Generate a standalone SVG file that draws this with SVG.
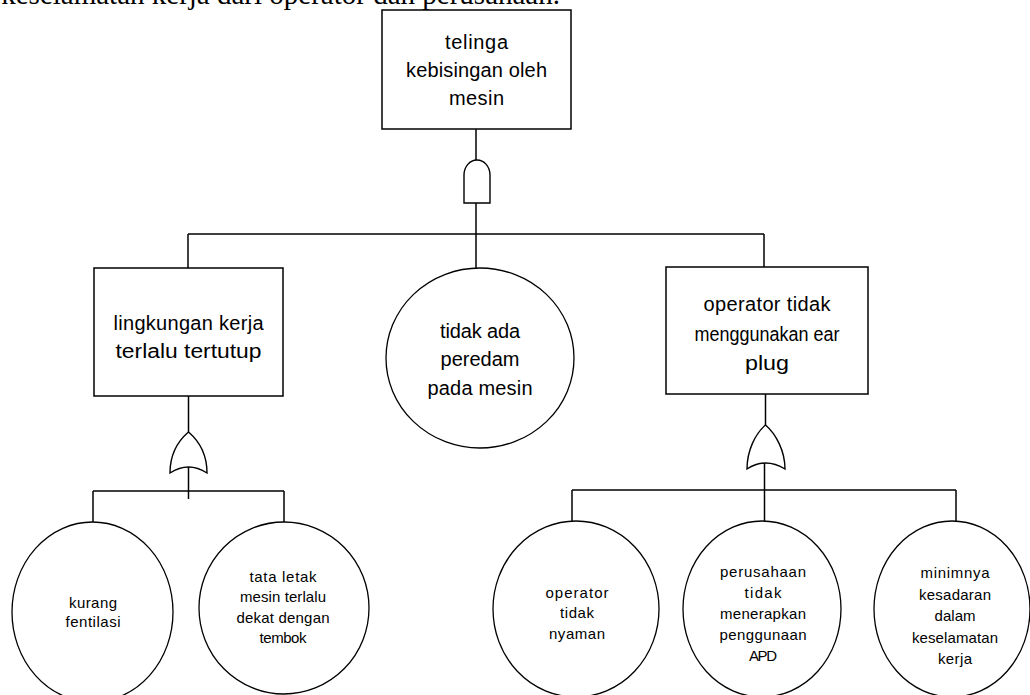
<svg xmlns="http://www.w3.org/2000/svg" width="1030" height="695" viewBox="0 0 1030 695">
<style>
.bg{fill:#fff}
.box{fill:#fff;stroke:#000;stroke-width:1.5}
.ev{fill:#fff;stroke:#000;stroke-width:1.3}
.gate{fill:#fff;stroke:#000;stroke-width:1.4}
.ln{fill:none;stroke:#000;stroke-width:1.5}
.t{font-family:"Liberation Sans",Arial,sans-serif;font-size:20px;fill:#000;text-anchor:middle}
.s{font-family:"Liberation Sans",Arial,sans-serif;font-size:15px;fill:#000;text-anchor:middle}
.h{font-family:"Liberation Serif","Times New Roman",serif;font-size:29px;fill:#000;text-anchor:end}
</style>
<rect class="bg" x="0" y="0" width="1030" height="695"/>
<text class="h" x="560" y="4">keselamatan kerja dari operator dan perusahaan.</text>

<g id="connectors">
<line class="ln" x1="476" y1="129" x2="476" y2="160"/>
<line class="ln" x1="476" y1="203" x2="476" y2="268"/>
<line class="ln" x1="188" y1="234" x2="764" y2="234"/>
<line class="ln" x1="188" y1="234" x2="188" y2="268"/>
<line class="ln" x1="764" y1="234" x2="764" y2="267"/>
<line class="ln" x1="188.5" y1="396" x2="188.5" y2="432"/>
<line class="ln" x1="188.5" y1="467" x2="188.5" y2="499"/>
<line class="ln" x1="93" y1="491" x2="284" y2="491"/>
<line class="ln" x1="93" y1="491" x2="93" y2="522"/>
<line class="ln" x1="284" y1="491" x2="284" y2="522"/>
<line class="ln" x1="765.5" y1="394" x2="765.5" y2="425"/>
<line class="ln" x1="764.5" y1="463" x2="764.5" y2="521"/>
<line class="ln" x1="572" y1="490" x2="956" y2="490"/>
<line class="ln" x1="572" y1="490" x2="572" y2="521"/>
<line class="ln" x1="956" y1="490" x2="956" y2="521"/>
</g>

<g id="gate-and">
<path class="gate" d="M464 203 V175 A13 15 0 0 1 490 175 V203 Z"/>
</g>
<g id="gate-or-left">
<path class="gate" d="M170 473 C170 455 178 441 188.5 432 C199 441 207 455 207 473 Q188.5 461 170 473 Z"/>
</g>
<g id="gate-or-right">
<path class="gate" d="M747 469 C747 451 755 434 765.5 425 C776 434 785 451 785 469 Q765.5 457 747 469 Z"/>
</g>

<g id="top">
<rect class="box" x="382" y="10" width="189" height="119"/>
<text class="t" x="476.5" y="49" textLength="63">telinga</text>
<text class="t" x="476.5" y="77" textLength="141">kebisingan oleh</text>
<text class="t" x="476.5" y="105" textLength="55">mesin</text>
</g>

<g id="lingkungan">
<rect class="box" x="94" y="268" width="189" height="128"/>
<text class="t" x="188.5" y="330" textLength="150">lingkungan kerja</text>
<text class="t" x="188.5" y="358" textLength="146" lengthAdjust="spacingAndGlyphs">terlalu tertutup</text>
</g>

<g id="peredam">
<ellipse class="ev" cx="480" cy="358" rx="94" ry="90"/>
<text class="t" x="480" y="338" textLength="80">tidak ada</text>
<text class="t" x="480" y="366" textLength="79">peredam</text>
<text class="t" x="480" y="395" textLength="105">pada mesin</text>
</g>

<g id="earplug">
<rect class="box" x="666" y="267" width="202" height="127"/>
<text class="t" x="767" y="311" textLength="127">operator tidak</text>
<text class="t" x="767" y="341" textLength="145" lengthAdjust="spacingAndGlyphs">menggunakan ear</text>
<text class="t" x="767" y="370" textLength="44" lengthAdjust="spacingAndGlyphs">plug</text>
</g>

<g id="fentilasi">
<ellipse class="ev" cx="92.5" cy="612" rx="80.5" ry="90"/>
<text class="s" x="93" y="608" textLength="48">kurang</text>
<text class="s" x="93" y="627" textLength="55">fentilasi</text>
</g>

<g id="tataletak">
<ellipse class="ev" cx="284" cy="608" rx="85" ry="86"/>
<text class="s" x="283" y="582" textLength="67">tata letak</text>
<text class="s" x="283" y="602" textLength="86">mesin terlalu</text>
<text class="s" x="283" y="623" textLength="93">dekat dengan</text>
<text class="s" x="283" y="643" textLength="47">tembok</text>
</g>

<g id="nyaman">
<ellipse class="ev" cx="576" cy="609" rx="83" ry="88"/>
<text class="s" x="577" y="598" textLength="63">operator</text>
<text class="s" x="577" y="618" textLength="34">tidak</text>
<text class="s" x="577" y="639" textLength="56">nyaman</text>
</g>

<g id="apd">
<ellipse class="ev" cx="762" cy="609" rx="79" ry="88"/>
<text class="s" x="763" y="577" textLength="86">perusahaan</text>
<text class="s" x="763" y="598" textLength="37">tidak</text>
<text class="s" x="763" y="619" textLength="86">menerapkan</text>
<text class="s" x="763" y="640" textLength="87">penggunaan</text>
<text class="s" x="763" y="661" textLength="28">APD</text>
</g>

<g id="kesadaran">
<ellipse class="ev" cx="952" cy="609" rx="78" ry="88"/>
<text class="s" x="955" y="578" textLength="69">minimnya</text>
<text class="s" x="955" y="600" textLength="72">kesadaran</text>
<text class="s" x="955" y="621" textLength="41">dalam</text>
<text class="s" x="955" y="643" textLength="86">keselamatan</text>
<text class="s" x="955" y="664" textLength="34">kerja</text>
</g>
</svg>
